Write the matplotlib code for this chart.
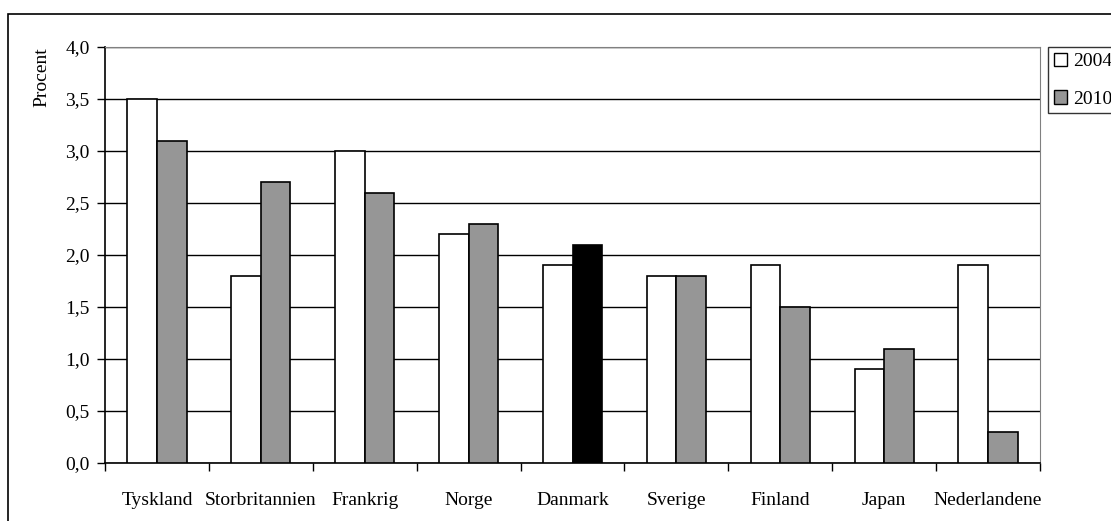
import matplotlib.pyplot as plt
import numpy as np
from matplotlib.patches import Rectangle, Patch

plt.rcParams['font.family'] = ['Liberation Serif', 'DejaVu Serif']

countries = ["Tyskland", "Storbritannien", "Frankrig", "Norge", "Danmark",
             "Sverige", "Finland", "Japan", "Nederlandene"]
values_2004 = [3.5, 1.8, 3.0, 2.2, 1.9, 1.8, 1.9, 0.9, 1.9]
values_2010 = [3.1, 2.7, 2.6, 2.3, 2.1, 1.8, 1.5, 1.1, 0.3]
highlight = "Danmark"

gray = "#969696"
W, H = 1111, 521
fig = plt.figure(figsize=(W / 100, H / 100), dpi=100)
ax = fig.add_axes([105 / W, 1 - 463 / H, (1040 - 105) / W, (463 - 47) / H])

x = np.arange(len(countries))
bw = 0.285
colors_2010 = ["black" if c == highlight else gray for c in countries]
ax.bar(x - bw / 2, values_2004, bw, color="white", edgecolor="black", linewidth=1.2, zorder=3)
ax.bar(x + bw / 2, values_2010, bw, color=colors_2010, edgecolor="black", linewidth=1.2, zorder=3)

ax.set_xlim(-0.5, len(countries) - 0.5)
ax.set_ylim(0, 4.0)
ax.set_yticks(np.arange(0, 4.01, 0.5))
ax.set_yticklabels([f"{v:.1f}".replace(".", ",") for v in np.arange(0, 4.01, 0.5)])
ax.yaxis.grid(True, color="black", linewidth=1.0, zorder=0)
ax.set_axisbelow(True)

ax.set_xticks(x)
ax.set_xticklabels(countries)
ax.set_xticks(np.arange(-0.5, len(countries)), minor=True)
ax.tick_params(axis="x", which="major", length=0, pad=21, labelsize=14)
ax.tick_params(axis="x", which="minor", length=6, direction="out", width=1)
ax.tick_params(axis="y", length=6, direction="out", width=1, labelsize=14, pad=5)

for side in ["top", "right"]:
    ax.spines[side].set_color("#808080")
ax.spines["left"].set_linewidth(1.2)
ax.spines["bottom"].set_linewidth(1.2)

fig.text(42 / W, 1 - 77 / H, "Procent", rotation=90, ha="center", va="center", fontsize=14)

# outer chart frame, right side runs past the canvas
fig.patches.append(Rectangle((8 / W, -0.01), 1.2, 1 - 14 / H + 0.01, transform=fig.transFigure,
                             fill=False, edgecolor="black", linewidth=1.2))

handles = [Patch(facecolor="white", edgecolor="black", label="2004"),
           Patch(facecolor=gray, edgecolor="black", label="2010")]
leg = fig.legend(handles=handles, loc="upper left", bbox_to_anchor=(1048 / W, 1 - 47 / H),
                 fontsize=14, frameon=True, fancybox=False, edgecolor="black",
                 handlelength=0.7, handleheight=0.7, handletextpad=0.3,
                 borderpad=0.3, labelspacing=1.0, borderaxespad=0)
leg.get_frame().set_linewidth(1.0)

fig.savefig("out.png", dpi=100)
